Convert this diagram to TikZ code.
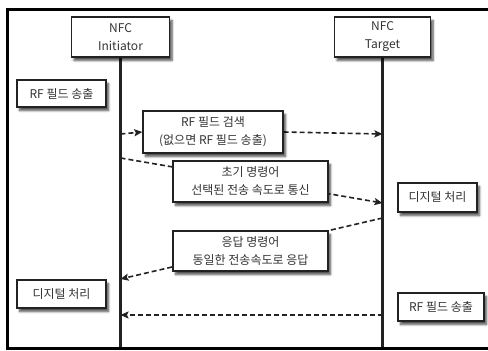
\documentclass[tikz,border=0pt]{standalone}
\usepackage{fontspec}
\setmainfont{Noto Sans CJK KR}
\usetikzlibrary{arrows.meta,shadows.blur}
\pgfdeclarelayer{bg}
\pgfsetlayers{bg,main}
\definecolor{ink}{HTML}{222222}
\definecolor{txt}{HTML}{333333}
\tikzset{
  box/.style={draw=ink, line width=1.4pt, fill=white, align=center, inner sep=0pt,
    text=txt, font=\fontsize{12}{18}\selectfont,
    blur shadow={shadow xshift=2.5pt, shadow yshift=-3.5pt, shadow blur steps=6, shadow opacity=70}},
  life/.style={draw=ink, line width=2.5pt},
  msg/.style={draw=ink, line width=1.6pt, dash pattern=on 5pt off 3pt,
    -{Stealth[length=8pt,width=7pt,inset=1.5pt]}},
  frameline/.style={draw=black, line width=3pt}
}
\begin{document}
\begin{tikzpicture}[x=1pt,y=-1pt]
\useasboundingbox (0,0) rectangle (488,351);
% frame (right side lies beyond the picture)
\draw[frameline] (495,9.5) -- (7.5,9.5) -- (7.5,348.5) -- (495,348.5);
% participants
\node[box, minimum width=98pt, minimum height=40pt] (init) at (120.5,37) {NFC\\Initiator};
\node[box, minimum width=96pt, minimum height=40pt] (targ) at (382.5,37) {NFC\\Target};
\coordinate (initEnd) at (120.5,347);
\coordinate (targEnd) at (382.5,347);
% message coordinates on the lifelines
\coordinate (i1) at (120.5,134);
\coordinate (t1) at (382.5,134);
\coordinate (i2) at (120.5,158);
\coordinate (t2) at (382.5,203);
\coordinate (t3) at (382.5,218);
\coordinate (i3) at (120.5,279);
\coordinate (t4) at (382.5,315);
\coordinate (i4) at (120.5,315);
% boxes
\node[box, minimum width=89pt, minimum height=27pt] (rfL) at (61.5,93.5) {RF 필드 송출};
\node[box, minimum width=140pt, minimum height=42pt] (search) at (213,132) {RF 필드 검색\\(없으면 RF 필드 송출)};
\node[box, minimum width=155pt, minimum height=41pt] (cmd) at (250.5,181.5) {초기 명령어\\선택된 전송 속도로 통신};
\node[box, minimum width=79pt, minimum height=29pt] (dpR) at (437.5,197.5) {디지털 처리};
\node[box, minimum width=155pt, minimum height=40pt] (resp) at (250.5,251) {응답 명령어\\동일한 전송속도로 응답};
\node[box, minimum width=89pt, minimum height=28pt] (dpL) at (61.5,294) {디지털 처리};
\node[box, minimum width=86pt, minimum height=28pt] (rfR) at (441,307) {RF 필드 송출};
\begin{pgfonlayer}{bg}
\draw[life] (init.south) -- (initEnd);
\draw[life] (targ.south) -- (targEnd);
\draw[msg] (i1) -- (search.west);
\draw[msg] (search.east) -- (t1);
\draw[msg] (i2) -- (t2);
\draw[msg] (t3) -- (i3);
\draw[msg] (t4) -- (i4);
\end{pgfonlayer}
\end{tikzpicture}
\end{document}
